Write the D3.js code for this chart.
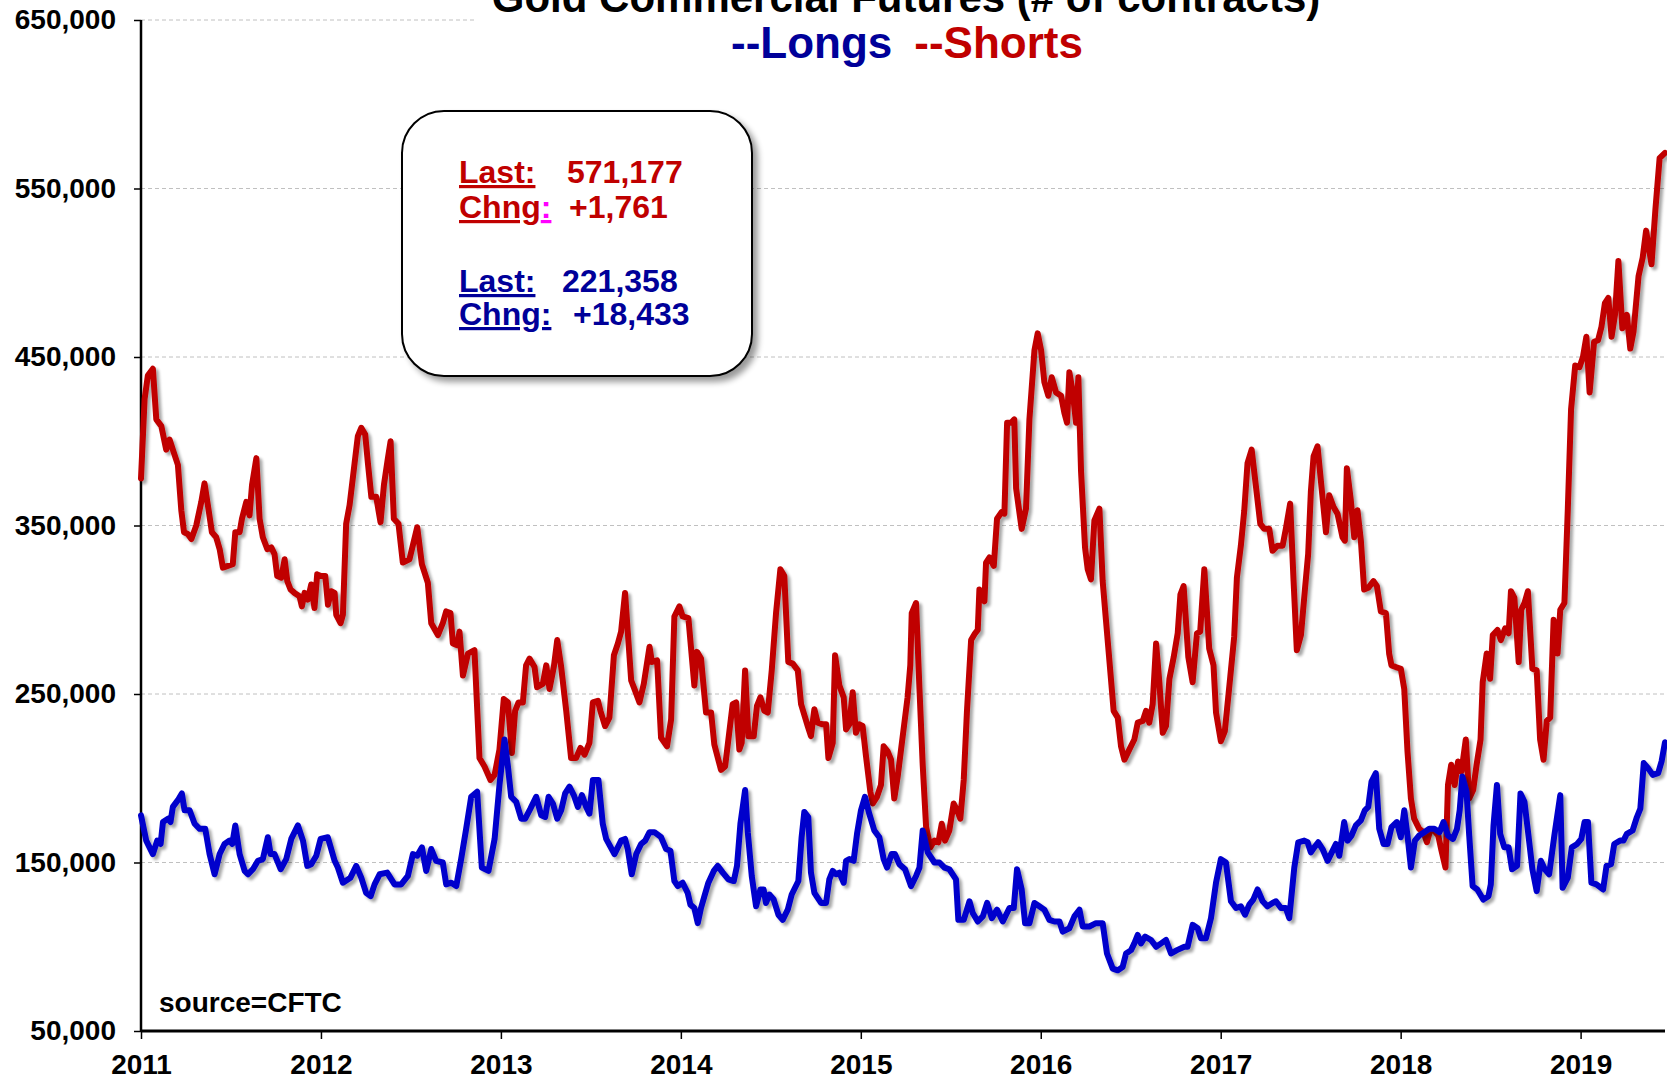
<!DOCTYPE html>
<meta charset="utf-8">
<script src="https://d3js.org/d3.v7.min.js"></script>
<style>
body { margin: 0; background: #fff; }
svg { display: block; font-family: "Liberation Sans", Arial, sans-serif; font-weight: bold; }
.grid line { stroke: #c0c0c0; stroke-width: 1; stroke-dasharray: 4,3; }
</style>
<svg id="chart" width="1667" height="1080">
  <defs>
    <filter id="lineShadow" x="-5%" y="-5%" width="110%" height="110%">
      <feGaussianBlur in="SourceAlpha" stdDeviation="1.6" result="blur"/>
      <feOffset in="blur" dx="3" dy="3" result="off"/>
      <feComponentTransfer in="off" result="soft"><feFuncA type="linear" slope="0.35"/></feComponentTransfer>
      <feMerge><feMergeNode in="soft"/><feMergeNode in="SourceGraphic"/></feMerge>
    </filter>
    <filter id="boxShadow" x="-10%" y="-10%" width="125%" height="125%">
      <feGaussianBlur in="SourceAlpha" stdDeviation="3" result="blur"/>
      <feOffset in="blur" dx="5" dy="5" result="off"/>
      <feComponentTransfer in="off" result="soft"><feFuncA type="linear" slope="0.4"/></feComponentTransfer>
      <feMerge><feMergeNode in="soft"/><feMergeNode in="SourceGraphic"/></feMerge>
    </filter>
  </defs>
</svg>
<script>

// weekly CFTC commercial positions, [year, thousands of contracts]
var shorts = [[2011.000,378],[2011.020,425],[2011.038,439],[2011.066,443],[2011.085,413],[2011.113,409],[2011.140,395],[2011.159,401],[2011.177,395],[2011.205,386],[2011.224,359],[2011.239,346],[2011.260,345],[2011.280,342],[2011.307,350],[2011.335,364],[2011.353,375],[2011.376,359],[2011.394,346],[2011.418,343],[2011.437,336],[2011.455,325],[2011.483,326],[2011.510,327],[2011.524,346],[2011.548,346],[2011.561,354],[2011.585,364],[2011.603,356],[2011.617,374],[2011.641,390],[2011.659,354],[2011.677,343],[2011.702,336],[2011.724,337],[2011.742,333],[2011.757,320],[2011.780,319],[2011.798,330],[2011.813,317],[2011.831,312],[2011.853,310],[2011.881,308],[2011.894,302],[2011.909,310],[2011.927,306],[2011.946,315],[2011.964,301],[2011.979,321],[2012.000,320],[2012.024,320],[2012.039,303],[2012.057,311],[2012.076,310],[2012.085,297],[2012.109,292],[2012.122,297],[2012.140,351],[2012.159,362],[2012.187,387],[2012.205,403],[2012.224,408],[2012.246,404],[2012.261,387],[2012.280,367],[2012.307,367],[2012.331,352],[2012.350,374],[2012.372,390],[2012.387,400],[2012.405,354],[2012.431,351],[2012.455,328],[2012.492,330],[2012.535,349],[2012.561,327],[2012.594,316],[2012.613,292],[2012.650,285],[2012.677,292],[2012.696,299],[2012.720,298],[2012.733,280],[2012.757,279],[2012.770,287],[2012.789,261],[2012.817,274],[2012.853,276],[2012.881,212],[2012.909,207],[2012.942,199],[2012.965,202],[2012.992,217],[2013.016,247],[2013.039,245],[2013.061,215],[2013.079,240],[2013.098,245],[2013.122,245],[2013.140,267],[2013.159,271],[2013.187,266],[2013.201,254],[2013.233,256],[2013.252,267],[2013.270,253],[2013.294,266],[2013.313,282],[2013.335,266],[2013.363,240],[2013.390,212],[2013.418,212],[2013.442,218],[2013.465,214],[2013.492,221],[2013.511,245],[2013.539,246],[2013.553,240],[2013.579,231],[2013.603,236],[2013.628,273],[2013.650,280],[2013.668,287],[2013.690,310],[2013.705,287],[2013.724,258],[2013.742,253],[2013.770,245],[2013.794,256],[2013.826,278],[2013.839,269],[2013.868,270],[2013.890,224],[2013.923,219],[2013.946,235],[2013.964,296],[2013.992,302],[2014.010,296],[2014.042,295],[2014.075,255],[2014.090,275],[2014.112,271],[2014.140,239],[2014.168,239],[2014.186,220],[2014.223,205],[2014.246,207],[2014.288,244],[2014.307,245],[2014.325,217],[2014.338,221],[2014.357,264],[2014.375,225],[2014.405,225],[2014.423,243],[2014.442,248],[2014.464,240],[2014.483,239],[2014.505,264],[2014.529,298],[2014.553,324],[2014.575,320],[2014.597,269],[2014.622,268],[2014.650,264],[2014.668,244],[2014.705,231],[2014.723,225],[2014.742,241],[2014.760,233],[2014.788,232],[2014.807,232],[2014.820,212],[2014.844,221],[2014.857,273],[2014.881,255],[2014.905,248],[2014.918,229],[2014.936,232],[2014.955,251],[2014.973,227],[2014.992,232],[2015.010,231],[2015.029,213],[2015.053,192],[2015.066,185],[2015.090,189],[2015.112,196],[2015.127,219],[2015.149,216],[2015.168,211],[2015.186,188],[2015.205,201],[2015.233,225],[2015.260,248],[2015.275,267],[2015.283,298],[2015.307,304],[2015.326,253],[2015.344,208],[2015.363,171],[2015.387,159],[2015.409,163],[2015.431,162],[2015.450,173],[2015.468,163],[2015.492,169],[2015.516,185],[2015.535,181],[2015.553,176],[2015.572,199],[2015.590,240],[2015.613,282],[2015.635,286],[2015.650,288],[2015.659,312],[2015.687,305],[2015.696,328],[2015.715,331],[2015.739,326],[2015.757,354],[2015.783,358],[2015.798,357],[2015.813,411],[2015.835,411],[2015.853,413],[2015.863,372],[2015.894,348],[2015.918,360],[2015.937,413],[2015.965,454],[2015.983,464],[2016.002,454],[2016.020,435],[2016.042,427],[2016.061,438],[2016.085,429],[2016.113,427],[2016.131,417],[2016.146,411],[2016.159,441],[2016.178,429],[2016.196,411],[2016.209,438],[2016.224,382],[2016.246,337],[2016.261,324],[2016.279,318],[2016.298,353],[2016.326,360],[2016.344,317],[2016.363,293],[2016.390,259],[2016.405,240],[2016.428,236],[2016.446,219],[2016.465,211],[2016.492,217],[2016.520,223],[2016.539,233],[2016.567,234],[2016.585,240],[2016.603,233],[2016.622,244],[2016.641,280],[2016.659,257],[2016.678,227],[2016.696,231],[2016.715,259],[2016.739,272],[2016.761,286],[2016.776,309],[2016.794,314],[2016.820,272],[2016.844,257],[2016.868,286],[2016.886,287],[2016.909,324],[2016.936,277],[2016.960,267],[2016.974,239],[2017.001,222],[2017.023,228],[2017.053,260],[2017.075,284],[2017.090,319],[2017.112,338],[2017.131,359],[2017.149,387],[2017.172,395],[2017.196,373],[2017.220,351],[2017.242,348],[2017.270,348],[2017.288,335],[2017.316,338],[2017.344,338],[2017.362,348],[2017.386,363],[2017.405,317],[2017.423,276],[2017.446,285],[2017.468,312],[2017.486,333],[2017.501,370],[2017.516,391],[2017.538,397],[2017.560,373],[2017.585,346],[2017.603,368],[2017.627,361],[2017.649,357],[2017.677,343],[2017.690,341],[2017.701,384],[2017.723,365],[2017.742,343],[2017.760,359],[2017.779,341],[2017.797,312],[2017.820,313],[2017.849,317],[2017.868,314],[2017.890,299],[2017.918,298],[2017.936,274],[2017.949,267],[2017.973,266],[2018.001,265],[2018.020,253],[2018.038,216],[2018.057,188],[2018.075,176],[2018.103,170],[2018.127,168],[2018.146,162],[2018.164,169],[2018.186,169],[2018.209,166],[2018.225,158],[2018.249,147],[2018.263,196],[2018.281,208],[2018.300,196],[2018.319,210],[2018.338,204],[2018.362,223],[2018.381,188],[2018.403,193],[2018.422,208],[2018.444,223],[2018.456,257],[2018.478,274],[2018.497,259],[2018.512,285],[2018.538,288],[2018.557,282],[2018.581,289],[2018.600,286],[2018.613,311],[2018.632,307],[2018.656,269],[2018.670,300],[2018.688,304],[2018.707,311],[2018.732,265],[2018.756,264],[2018.775,223],[2018.794,211],[2018.812,234],[2018.831,236],[2018.850,294],[2018.872,274],[2018.887,300],[2018.910,304],[2018.929,360],[2018.947,419],[2018.970,445],[2018.994,444],[2019.013,450],[2019.032,462],[2019.050,429],[2019.075,459],[2019.097,460],[2019.116,468],[2019.135,482],[2019.154,485],[2019.172,462],[2019.191,475],[2019.210,507],[2019.232,467],[2019.257,475],[2019.276,455],[2019.294,465],[2019.322,498],[2019.345,509],[2019.364,525],[2019.394,505],[2019.416,538],[2019.439,568],[2019.469,571.177]];

var longs = [[2011.000,178],[2011.029,163],[2011.066,155],[2011.090,163],[2011.109,161],[2011.122,174],[2011.150,176],[2011.164,174],[2011.177,183],[2011.205,187],[2011.227,191],[2011.242,181],[2011.270,181],[2011.298,173],[2011.326,170],[2011.357,170],[2011.381,155],[2011.409,143],[2011.437,155],[2011.464,161],[2011.492,163],[2011.507,161],[2011.524,172],[2011.548,155],[2011.576,145],[2011.594,143],[2011.622,146],[2011.650,151],[2011.677,152],[2011.705,165],[2011.720,155],[2011.742,155],[2011.776,146],[2011.807,152],[2011.835,164],[2011.872,172],[2011.900,163],[2011.924,148],[2011.946,149],[2011.974,154],[2011.998,164],[2012.038,165],[2012.076,151],[2012.094,147],[2012.122,138],[2012.164,141],[2012.196,148],[2012.224,141],[2012.251,132],[2012.276,130],[2012.298,137],[2012.326,143],[2012.368,144],[2012.409,137],[2012.446,137],[2012.483,142],[2012.511,155],[2012.535,154],[2012.561,159],[2012.585,145],[2012.613,158],[2012.640,151],[2012.677,150],[2012.696,137],[2012.724,138],[2012.752,136],[2012.779,152],[2012.807,170],[2012.835,189],[2012.868,192],[2012.894,147],[2012.931,145],[2012.965,164],[2012.992,196],[2013.020,223],[2013.039,207],[2013.057,189],[2013.085,186],[2013.113,176],[2013.135,176],[2013.164,182],[2013.196,189],[2013.224,178],[2013.246,177],[2013.265,189],[2013.289,185],[2013.313,176],[2013.335,181],[2013.357,191],[2013.381,195],[2013.405,190],[2013.428,183],[2013.450,190],[2013.474,183],[2013.492,179],[2013.511,199],[2013.542,199],[2013.566,173],[2013.585,164],[2013.631,155],[2013.668,163],[2013.690,164],[2013.705,158],[2013.727,143],[2013.752,155],[2013.779,161],[2013.802,163],[2013.826,168],[2013.853,168],[2013.890,165],[2013.918,158],[2013.942,157],[2013.964,139],[2013.983,136],[2014.010,138],[2014.038,132],[2014.053,125],[2014.075,123],[2014.094,114],[2014.112,123],[2014.131,130],[2014.153,138],[2014.183,145],[2014.205,148],[2014.233,144],[2014.264,140],[2014.294,139],[2014.312,148],[2014.331,173],[2014.357,193],[2014.372,168],[2014.394,142],[2014.418,124],[2014.442,134],[2014.460,134],[2014.473,126],[2014.492,131],[2014.516,128],[2014.542,119],[2014.566,116],[2014.594,122],[2014.616,131],[2014.653,139],[2014.671,165],[2014.686,180],[2014.708,177],[2014.723,144],[2014.742,132],[2014.779,126],[2014.807,126],[2014.825,140],[2014.844,145],[2014.862,143],[2014.881,144],[2014.905,138],[2014.918,151],[2014.936,152],[2014.960,151],[2014.979,167],[2015.001,181],[2015.023,189],[2015.047,179],[2015.075,169],[2015.103,165],[2015.127,152],[2015.146,147],[2015.171,155],[2015.190,155],[2015.214,149],[2015.246,146],[2015.279,136],[2015.307,142],[2015.326,147],[2015.344,169],[2015.372,156],[2015.409,150],[2015.437,150],[2015.465,147],[2015.492,146],[2015.529,140],[2015.542,116],[2015.572,116],[2015.604,127],[2015.622,120],[2015.650,115],[2015.678,118],[2015.702,126],[2015.728,117],[2015.757,122],[2015.789,115],[2015.826,123],[2015.850,123],[2015.868,146],[2015.894,134],[2015.913,114],[2015.937,114],[2015.965,126],[2015.992,124],[2016.020,122],[2016.048,116],[2016.076,115],[2016.104,115],[2016.122,109],[2016.159,111],[2016.187,118],[2016.215,122],[2016.233,112],[2016.270,112],[2016.307,114],[2016.344,114],[2016.368,96],[2016.400,87],[2016.428,86],[2016.455,88],[2016.474,96],[2016.502,98],[2016.520,102],[2016.539,107],[2016.557,102],[2016.580,106],[2016.613,104],[2016.641,100],[2016.669,102],[2016.696,104],[2016.724,96],[2016.757,98],[2016.798,100],[2016.816,100],[2016.844,113],[2016.872,111],[2016.890,105],[2016.918,105],[2016.946,117],[2016.974,138],[2017.001,152],[2017.029,150],[2017.057,127],[2017.085,123],[2017.112,124],[2017.135,119],[2017.159,125],[2017.181,128],[2017.205,134],[2017.233,127],[2017.260,124],[2017.288,126],[2017.307,127],[2017.335,123],[2017.362,123],[2017.381,117],[2017.409,147],[2017.431,162],[2017.464,163],[2017.483,162],[2017.501,156],[2017.520,159],[2017.542,162],[2017.566,158],[2017.594,151],[2017.622,157],[2017.640,161],[2017.659,154],[2017.686,174],[2017.705,163],[2017.727,166],[2017.751,172],[2017.779,175],[2017.801,181],[2017.820,183],[2017.838,198],[2017.862,203],[2017.881,170],[2017.905,161],[2017.927,161],[2017.949,171],[2017.979,174],[2018.001,165],[2018.020,181],[2018.038,166],[2018.057,147],[2018.079,163],[2018.103,166],[2018.131,168],[2018.159,170],[2018.187,170],[2018.216,168],[2018.238,174],[2018.263,166],[2018.291,164],[2018.313,170],[2018.328,181],[2018.343,201],[2018.366,192],[2018.381,166],[2018.400,136],[2018.426,134],[2018.459,128],[2018.488,130],[2018.501,137],[2018.516,172],[2018.535,196],[2018.553,167],[2018.576,159],[2018.600,159],[2018.619,146],[2018.647,148],[2018.666,191],[2018.688,186],[2018.707,169],[2018.732,146],[2018.756,133],[2018.779,151],[2018.801,146],[2018.825,143],[2018.854,166],[2018.887,190],[2018.900,135],[2018.929,141],[2018.951,159],[2018.981,161],[2019.004,164],[2019.022,174],[2019.041,174],[2019.060,138],[2019.088,137],[2019.125,134],[2019.144,148],[2019.169,149],[2019.187,161],[2019.219,163],[2019.238,163],[2019.257,167],[2019.289,169],[2019.313,177],[2019.332,182],[2019.351,209],[2019.375,206],[2019.401,202],[2019.431,203],[2019.450,210],[2019.469,221.358]];

var yearTicks = [2011, 2012, 2013, 2014, 2015, 2016, 2017, 2018, 2019];
var valueTicks = [50000, 150000, 250000, 350000, 450000, 550000, 650000];
var titleText = "Gold Commercial Futures  (# of contracts)";
var boxRows = [
  {label: "Last:", value: "571,177", color: "#c00000"},
  {label: "Chng", colon: ":", value: "+1,761", color: "#c00000"},
  {label: "Last:", value: "221,358", color: "#000099"},
  {label: "Chng:", value: "+18,433", color: "#000099"}
];

var red = "#c00000", blue = "#0000cc";
var plotLeft = 141, plotRight = 1665, plotTop = 20, plotBottom = 1031;

var svg = d3.select("#chart");

var x = d3.scaleLinear().domain([2011, 2019.469]).range([plotLeft, plotRight]);
var y = d3.scaleLinear().domain([50000, 650000]).range([plotBottom, plotTop]);

// gridlines
svg.append("g").attr("class", "grid")
  .selectAll("line").data(valueTicks.slice(1)).enter()
  .append("line")
  .attr("x1", plotLeft).attr("x2", plotRight)
  .attr("y1", function(d) { return y(d); })
  .attr("y2", function(d) { return y(d); });

// title box hides the top gridline
svg.append("rect").attr("x", 474).attr("y", 0).attr("width", 1200).attr("height", 30).attr("fill", "#fff");

svg.append("text").attr("x", 906).attr("y", 12)
  .attr("text-anchor", "middle").attr("font-size", 42).text(titleText);

var legend = svg.append("text").attr("x", 731).attr("y", 58).attr("font-size", 44);
legend.append("tspan").attr("fill", "#000099").text("--Longs");
legend.append("tspan").attr("fill", red).attr("dx", 22).text("--Shorts");

// axes
var yAxis = svg.append("g").attr("transform", "translate(" + plotLeft + ",0)")
  .call(d3.axisLeft(y).tickValues(valueTicks).tickSize(7).tickPadding(18)
    .tickFormat(d3.format(",")));
var xAxis = svg.append("g").attr("transform", "translate(0," + plotBottom + ")")
  .call(d3.axisBottom(x).tickValues(yearTicks).tickSize(8).tickPadding(15)
    .tickFormat(d3.format("d")));

[yAxis, xAxis].forEach(function(a) {
  a.select(".domain").attr("stroke", "#000");
  a.selectAll(".tick line").attr("stroke", "#000").attr("stroke-width", 1.5);
  a.selectAll("text").attr("font-size", 28).attr("font-weight", "bold")
    .attr("fill", "#000").attr("font-family", "Liberation Sans, Arial, sans-serif");
});
yAxis.select(".domain").attr("stroke-width", 2.5).attr("d", "M0," + plotTop + "V" + plotBottom);
xAxis.select(".domain").attr("stroke-width", 3).attr("d", "M" + plotLeft + ",0H" + plotRight);

// series
var line = d3.line()
  .x(function(d) { return x(d[0]); })
  .y(function(d) { return y(d[1] * 1000); });

svg.append("path").datum(shorts)
  .attr("d", line).attr("fill", "none").attr("stroke", red)
  .attr("stroke-width", 6).attr("stroke-linejoin", "round").attr("stroke-linecap", "round")
  .attr("filter", "url(#lineShadow)");

svg.append("path").datum(longs)
  .attr("d", line).attr("fill", "none").attr("stroke", blue)
  .attr("stroke-width", 6).attr("stroke-linejoin", "round").attr("stroke-linecap", "round")
  .attr("filter", "url(#lineShadow)");

// callout
svg.append("rect").attr("x", 402).attr("y", 111).attr("width", 350).attr("height", 265)
  .attr("rx", 42).attr("ry", 42).attr("fill", "#fff").attr("stroke", "#000").attr("stroke-width", 2)
  .attr("filter", "url(#boxShadow)");

var rowY = [183, 218, 292, 325];
var valX = [567, 569, 562, 573];
boxRows.forEach(function(r, i) {
  var t = svg.append("text").attr("x", 459).attr("y", rowY[i]).attr("font-size", 32).attr("fill", r.color);
  t.append("tspan").attr("text-decoration", "underline").text(r.label);
  if (r.colon) t.append("tspan").attr("fill", "#ff00ff").attr("text-decoration", "underline").text(r.colon);
  svg.append("text").attr("x", valX[i]).attr("y", rowY[i]).attr("font-size", 32)
    .attr("fill", r.color).text(r.value);
});

svg.append("text").attr("x", 159).attr("y", 1012).attr("font-size", 28).attr("fill", "#000")
  .text("source=CFTC");

</script>
